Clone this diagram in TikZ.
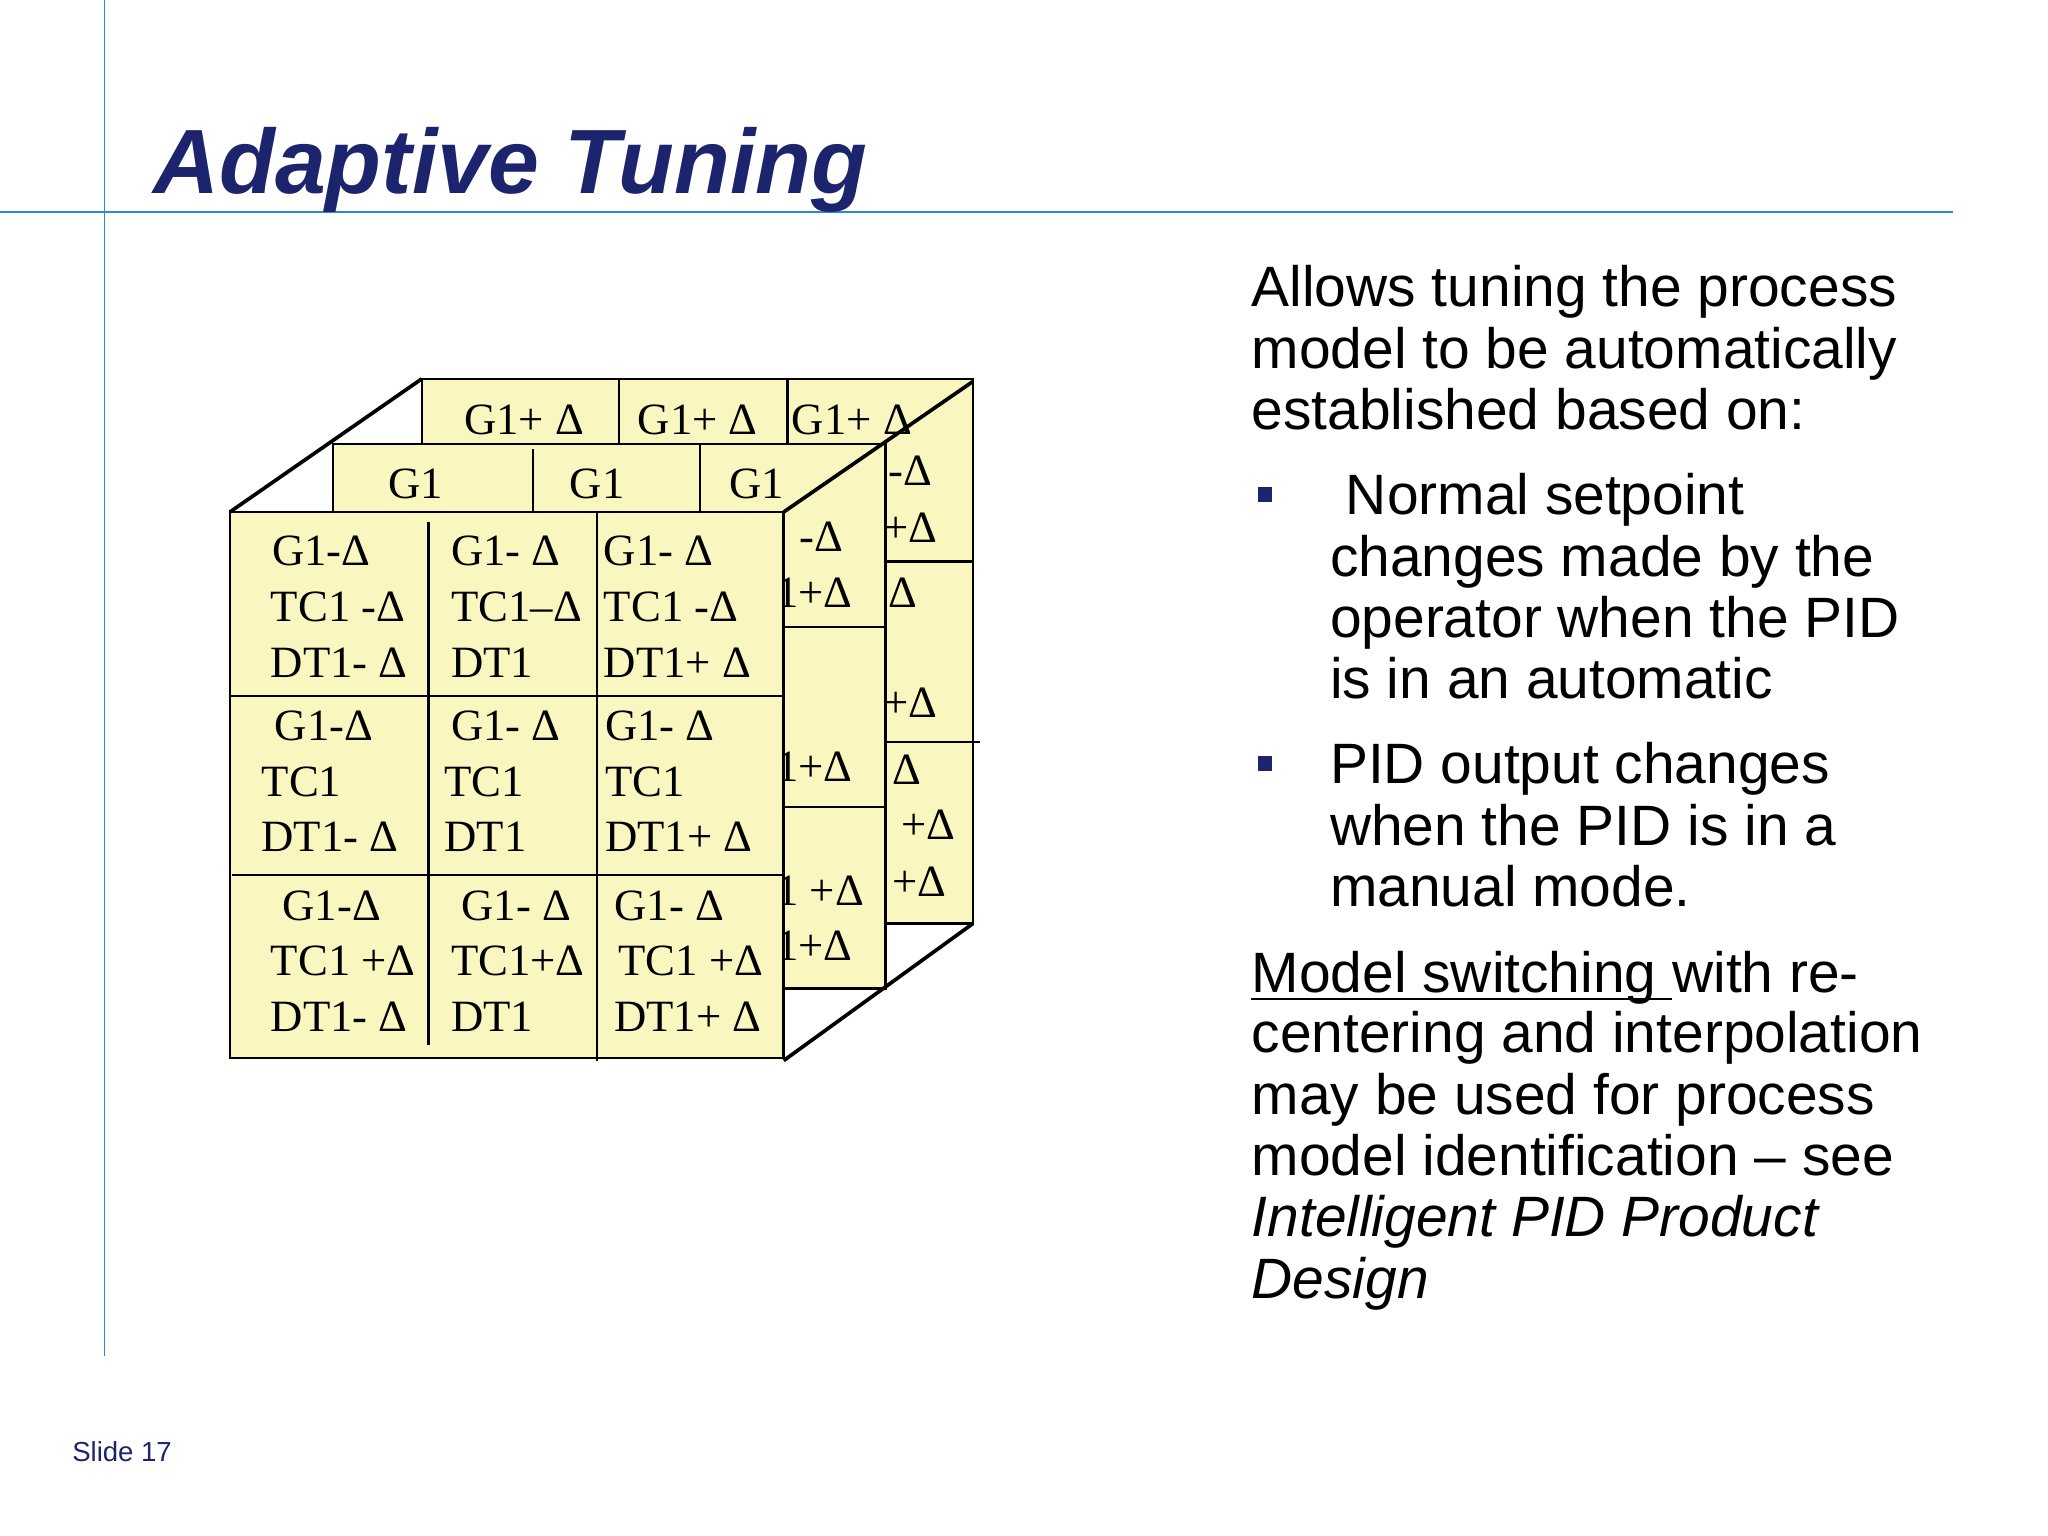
\documentclass[tikz,border=0pt]{standalone}
\usepackage{fontspec}
\setmainfont{Liberation Sans}
\newfontfamily\tms{Liberation Serif}
\definecolor{navy}{RGB}{28,36,110}
\definecolor{rule}{RGB}{40,140,200}
\definecolor{cubey}{RGB}{250,246,192}
\begin{document}
\begin{tikzpicture}[x=0.02cm,y=-0.02cm,
  ct/.style={anchor=base west,inner sep=0,font=\tms\fontsize{19.5}{19.5}\selectfont},
  rt/.style={anchor=base west,inner sep=0,font=\fontsize{24.8}{24.8}\selectfont},
  face/.style={fill=cubey,draw=black,line width=1.1pt},
  ln/.style={draw=black,line width=1.1pt},
  dg/.style={draw=black,line width=1.6pt}]
\useasboundingbox (0,0) rectangle (1568,1176);
\fill[white] (0,0) rectangle (1568,1176);
% frame lines
\draw[rule,line width=0.8pt] (80,0) -- (80,1038);
\draw[rule,line width=0.8pt] (0,162) -- (1495,162);
\node[anchor=base west,inner sep=0,text=navy,font=\bfseries\itshape\fontsize{39.8}{40}\selectfont] (title) at (117,148) {Adaptive Tuning};
% back layer
\path[face] (323,290) rectangle (745,707);
\draw[ln] (474,290) -- (474,340) (603,290) -- (603,340);
\draw[ln] (678,430) -- (745,430) (678,568) -- (750,568);
\node[ct] (b0) at (355,333) {G1+ Δ};
\node[ct] (b1) at (488,333) {G1+ Δ};
\node[ct] (b2) at (606,333) {G1+ Δ};
\node[ct] (b3) at (680,372) {-Δ};
\node[ct] (b4) at (676,415) {+Δ};
\node[ct] (b5) at (680,465) {Δ};
\node[ct] (b6) at (676,549) {+Δ};
\node[ct] (b7) at (683,601) {Δ};
\node[ct] (b8) at (690,643) {+Δ};
\node[ct] (b9) at (683,686) {+Δ};
% middle layer
\path[face] (255,340) rectangle (678,757);
\draw[ln] (408,344) -- (408,392) (536,340) -- (536,392);
\draw[ln] (600,480) -- (678,480) (600,618) -- (678,618);
\node[ct] (m0) at (297,382) {G1};
\node[ct] (m1) at (436,382) {G1};
\node[ct] (m2) at (558,382) {G1};
\node[ct] (m3) at (612,422) {-Δ};
\node[ct] (m4) at (594,465) {1+Δ};
\node[ct] (m5) at (594,598) {1+Δ};
\node[ct] (m6) at (594,693) {1 +Δ};
\node[ct] (m7) at (594,735) {1+Δ};
% front layer
\path[face] (176,392) rectangle (600,810);
\draw[ln] (176,533) -- (600,533) (178,670) -- (600,670);
\draw[ln] (328,400) -- (328,800) (457,392) -- (457,812);
\foreach \x/\y/\t [count=\i] in {
 208/433/G1-Δ, 207/476/TC1 -Δ, 207/519/DT1- Δ,
 345/433/G1- Δ, 345/476/TC1–Δ, 345/519/DT1,
 462/433/G1- Δ, 462/476/TC1 -Δ, 462/519/DT1+ Δ,
 210/567/G1-Δ, 200/610/TC1, 200/652/DT1- Δ,
 345/567/G1- Δ, 340/610/TC1, 340/652/DT1,
 463/567/G1- Δ, 463/610/TC1, 463/652/DT1+ Δ,
 216/705/G1-Δ, 207/747/TC1 +Δ, 207/790/DT1- Δ,
 353/705/G1- Δ, 345/747/TC1+Δ, 345/790/DT1,
 470/705/G1- Δ, 473/747/TC1 +Δ, 470/790/DT1+ Δ}
  \node[ct] (f\i) at (\x,\y) {\t};
% diagonals
\coordinate (ftl) at (176,392); \coordinate (btl) at (323,290);
\coordinate (ftr) at (600,392); \coordinate (btr) at (745,292);
\coordinate (fbr) at (600,812); \coordinate (bbr) at (745,707);
\draw[dg] (ftl) -- (btl);
\draw[dg] (ftr) -- (btr);
\draw[dg] (fbr) -- (bbr);
% right text
\node[rt] (t1) at (958,235) {Allows tuning the process};
\node[rt] (t2) at (958,282) {model to be automatically};
\node[rt] (t3) at (958,329) {established based on:};
\fill[navy] (963,373) rectangle (974,384);
\node[rt] (t4) at (1018,394) {\ Normal setpoint};
\node[rt] (t5) at (1018,441) {changes made by the};
\node[rt] (t6) at (1018,488) {operator when the PID};
\node[rt] (t7) at (1018,535) {is in an automatic};
\fill[navy] (963,579) rectangle (974,590);
\node[rt] (t8) at (1018,600) {PID output changes};
\node[rt] (t9) at (1018,647) {when the PID is in a};
\node[rt] (t10) at (1018,694) {manual mode.};
\node[rt] (t11) at (958,760) {Model switching with re-};
\coordinate (ul1) at (958,765); \coordinate (ul2) at (1280,765);
\draw[black,line width=1pt] (ul1) -- (ul2);
\node[rt] (t12) at (958,806) {centering and interpolation};
\node[rt] (t13) at (958,853) {may be used for process};
\node[rt] (t14) at (958,900) {model identification – see};
\node[rt] (t15) at (958,947) {\itshape Intelligent PID Product};
\node[rt] (t16) at (958,994) {\itshape Design};
\node[anchor=base west,inner sep=0,text=navy,font=\fontsize{12}{12}\selectfont] (slide) at (55,1119) {Slide 17};
\end{tikzpicture}
\end{document}
